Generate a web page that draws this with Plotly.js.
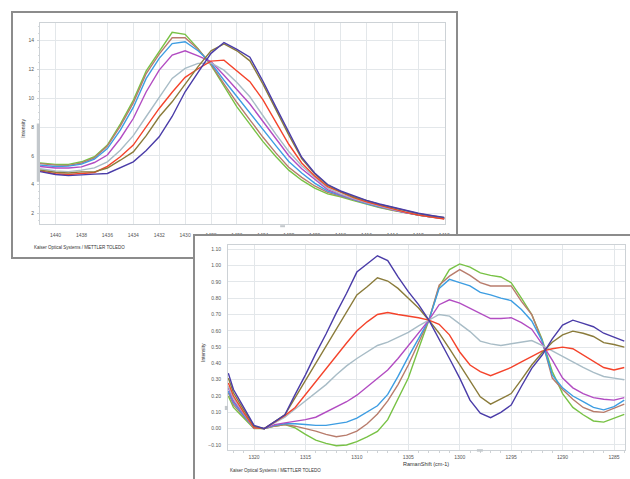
<!DOCTYPE html>
<html>
<head>
<meta charset="utf-8">
<script src="https://cdn.plot.ly/plotly-3.0.1.min.js"></script>
<style>
  html, body { margin:0; padding:0; background:#ffffff; width:630px; height:479px; overflow:hidden; }
  .panel { position:absolute; background:#ffffff; }
  #p1 { left:11px; top:11px; width:443px; height:244px; border:2px solid #8c8c8c; }
  #p2 { left:193px; top:234px; width:460px; height:270px; border-left:2px solid #8c8c8c; border-top:2px solid #8c8c8c; }
  #c1, #c2 { position:absolute; left:0; top:0; }
</style>
</head>
<body>
<div id="p1" class="panel"><div id="c1"></div></div>
<div id="p2" class="panel"><div id="c2"></div></div>
<script>
// ---------- Chart 1 (upper panel) ----------
const x1 = [1441.2,1440,1439,1438,1437,1436,1435,1434,1433,1432,1431,1430,1429,1428,1427,1426,1425,1424,1423,1422,1421,1420,1419,1418,1417,1416,1415,1414,1413,1412,1411,1410];
const c1Green  = [5.5,5.4,5.4,5.58,5.93,6.74,8.2,9.85,11.9,13.23,14.58,14.44,13.45,12.3,10.8,9.4,8.2,7.0,5.95,5.0,4.3,3.75,3.35,3.15,2.88,2.62,2.4,2.2,2.03,1.87,1.75,1.66];
const c1Brown  = [5.45,5.35,5.33,5.5,5.86,6.67,8.06,9.68,11.72,13.07,14.2,14.2,13.4,12.35,11.0,9.7,8.5,7.3,6.2,5.2,4.5,3.9,3.45,3.2,2.92,2.65,2.43,2.22,2.04,1.87,1.74,1.64];
const c1Blue   = [5.35,5.25,5.28,5.42,5.76,6.5,7.78,9.36,11.38,12.77,13.8,13.93,13.3,12.45,11.25,10.1,9.0,7.8,6.7,5.6,4.8,4.1,3.55,3.25,2.95,2.68,2.45,2.24,2.05,1.87,1.74,1.64];
const c1Purple = [5.25,5.15,5.15,5.23,5.53,6.05,7.2,8.59,10.45,11.96,13.0,13.3,12.95,12.55,11.6,10.6,9.6,8.4,7.2,6.0,5.1,4.35,3.65,3.3,2.98,2.72,2.48,2.26,2.06,1.88,1.75,1.64];
const c1Grey   = [5.1,4.95,4.9,5.0,5.16,5.58,6.39,7.4,8.73,10.1,11.38,12.07,12.42,12.45,11.95,11.1,10.1,8.8,7.5,6.3,5.3,4.5,3.75,3.35,3.02,2.75,2.5,2.28,2.08,1.9,1.76,1.65];
const c1Red    = [4.95,4.75,4.7,4.77,4.84,5.26,5.93,6.74,8.05,9.29,10.42,11.45,12.05,12.58,12.65,11.9,11.15,9.9,8.3,6.8,5.5,4.6,3.85,3.45,3.1,2.8,2.55,2.3,2.08,1.88,1.72,1.6];
const c1Olive  = [5.0,4.85,4.8,4.88,4.88,5.15,5.69,6.27,7.4,8.71,9.75,11.0,12.2,13.3,13.77,13.3,12.6,11.0,9.2,7.45,5.8,4.75,3.95,3.5,3.15,2.87,2.62,2.4,2.18,1.98,1.83,1.7];
const c1Navy   = [4.9,4.7,4.62,4.65,4.72,4.77,5.15,5.58,6.36,7.32,8.73,10.45,11.8,13.12,13.87,13.4,12.85,11.2,9.4,7.6,5.9,4.8,4.0,3.55,3.2,2.9,2.65,2.42,2.2,2.0,1.85,1.72];

// ---------- Chart 2 (lower panel) ----------
const x2 = [1322.5,1322,1321,1320,1319,1318,1317,1316,1315,1314,1313,1312,1311,1310,1309,1308,1307,1306,1305,1304,1303,1302,1301,1300,1299,1298,1297,1296,1295,1294,1293,1292,1291,1290,1289,1288,1287,1286,1285,1284];
const c2Navy   = [0.34,0.24,0.13,0.02,0.0,0.04,0.085,0.21,0.33,0.46,0.58,0.71,0.83,0.96,1.01,1.06,1.03,0.93,0.84,0.76,0.665,0.55,0.43,0.31,0.175,0.095,0.067,0.10,0.145,0.26,0.37,0.45,0.55,0.635,0.665,0.645,0.625,0.585,0.56,0.537];
const c2Olive  = [0.31,0.22,0.115,0.015,0.0,0.04,0.085,0.19,0.295,0.40,0.50,0.61,0.715,0.82,0.87,0.925,0.905,0.86,0.80,0.74,0.665,0.585,0.49,0.39,0.29,0.195,0.15,0.18,0.215,0.30,0.39,0.465,0.53,0.575,0.598,0.585,0.565,0.527,0.516,0.50];
const c2Red    = [0.28,0.20,0.10,0.005,0.0,0.04,0.08,0.13,0.21,0.29,0.37,0.45,0.525,0.60,0.655,0.70,0.712,0.70,0.69,0.68,0.665,0.64,0.575,0.47,0.39,0.35,0.325,0.35,0.375,0.41,0.44,0.475,0.49,0.50,0.49,0.45,0.41,0.375,0.36,0.375];
const c2Grey   = [0.26,0.185,0.095,0.005,0.0,0.035,0.07,0.12,0.17,0.22,0.27,0.33,0.385,0.43,0.47,0.51,0.53,0.56,0.59,0.63,0.665,0.70,0.69,0.64,0.595,0.537,0.52,0.51,0.52,0.53,0.54,0.51,0.475,0.44,0.405,0.375,0.345,0.32,0.31,0.30];
const c2Purple = [0.25,0.17,0.09,0.005,0.0,0.025,0.035,0.045,0.055,0.07,0.10,0.135,0.165,0.205,0.257,0.31,0.36,0.43,0.51,0.59,0.665,0.76,0.79,0.77,0.74,0.705,0.675,0.675,0.68,0.65,0.61,0.52,0.42,0.31,0.25,0.215,0.19,0.18,0.175,0.19];
const c2Blue   = [0.23,0.16,0.08,0.005,0.0,0.02,0.03,0.03,0.025,0.02,0.02,0.03,0.04,0.065,0.10,0.14,0.21,0.32,0.44,0.555,0.665,0.86,0.915,0.895,0.875,0.835,0.82,0.80,0.785,0.73,0.66,0.54,0.33,0.25,0.20,0.165,0.13,0.115,0.135,0.175];
const c2Brown  = [0.22,0.145,0.075,0.005,0.0,0.015,0.025,0.015,0.0,-0.015,-0.035,-0.05,-0.04,-0.015,0.03,0.09,0.17,0.27,0.39,0.53,0.665,0.88,0.935,0.975,0.94,0.895,0.875,0.875,0.875,0.78,0.70,0.54,0.31,0.24,0.18,0.13,0.105,0.10,0.125,0.15];
const c2Green  = [0.20,0.13,0.065,0.0,0.0,0.015,0.025,0.005,-0.035,-0.07,-0.09,-0.105,-0.10,-0.08,-0.05,-0.017,0.055,0.18,0.31,0.49,0.665,0.87,0.975,1.01,0.99,0.955,0.94,0.93,0.895,0.80,0.70,0.55,0.35,0.215,0.13,0.085,0.047,0.04,0.063,0.088];

const yTicks2 = [-0.10,0.00,0.10,0.20,0.30,0.40,0.50,0.60,0.70,0.80,0.90,1.00,1.10];
const footer = "Kaiser Optical Systems / METTLER TOLEDO";

const COLORS = {green:'#78c245', brown:'#b87c6c', blue:'#3d9de2', purple:'#b24cc2', grey:'#a8bcc6', red:'#f4432b', olive:'#8a7b3a', navy:'#4a3ca8'};
const FONT = 'Liberation Sans, Arial, sans-serif';

function mk(x, y, color){ return {x:x, y:y, type:'scatter', mode:'lines', line:{color:color, width:1.4}, hoverinfo:'skip'}; }

const t1 = [
  mk(x1,c1Green,COLORS.green), mk(x1,c1Brown,COLORS.brown), mk(x1,c1Blue,COLORS.blue), mk(x1,c1Purple,COLORS.purple),
  mk(x1,c1Grey,COLORS.grey), mk(x1,c1Red,COLORS.red), mk(x1,c1Olive,COLORS.olive), mk(x1,c1Navy,COLORS.navy)
];
const t2 = [
  mk(x2,c2Green,COLORS.green), mk(x2,c2Brown,COLORS.brown), mk(x2,c2Blue,COLORS.blue), mk(x2,c2Purple,COLORS.purple),
  mk(x2,c2Grey,COLORS.grey), mk(x2,c2Red,COLORS.red), mk(x2,c2Olive,COLORS.olive), mk(x2,c2Navy,COLORS.navy)
];

const grid = '#e3e7ea', axl = '#cdd2d6', grip = '#c3c8cc';

const layout1 = {
  width:443, height:244, margin:{l:27, r:11, t:10, b:33},
  paper_bgcolor:'#ffffff', plot_bgcolor:'#ffffff', showlegend:false,
  font:{family:FONT, size:5, color:'#555'},
  xaxis:{range:[1441.2,1409.94], tick0:1410, dtick:2, showgrid:true, gridcolor:grid, zeroline:false,
         showline:true, linecolor:axl, mirror:true, ticks:'', ticklabelstandoff:6, tickfont:{size:5, color:'#555'}},
  yaxis:{range:[1.256,15.23], tick0:2, dtick:2, showgrid:true, gridcolor:grid, zeroline:false,
         showline:true, linecolor:axl, mirror:true, ticks:'outside', ticklen:2, tickcolor:axl,
         minor:{ticks:'outside', ticklen:1, dtick:0.5, tickcolor:'#d5d9dc', showgrid:false},
         ticklabelstandoff:2, tickfont:{size:5, color:'#555'}},
  shapes:[
    {type:'rect', xref:'paper', yref:'paper', x0:-0.008, x1:0.0, y0:0.21, y1:0.5, fillcolor:grip, line:{width:0}, layer:'above'},
    {type:'rect', xref:'paper', yref:'paper', x0:0.593, x1:0.605, y0:-0.016, y1:-0.006, fillcolor:grip, line:{width:0}, layer:'above'}
  ],
  annotations:[
    {xref:'paper', yref:'paper', x:-0.0427, y:0.478, text:'Intensity', textangle:-90, showarrow:false, xanchor:'center', yanchor:'middle', font:{size:5, color:'#333'}},
    {xref:'paper', yref:'paper', x:-0.0205, y:-0.116, text:footer, showarrow:false, xanchor:'left', yanchor:'middle', font:{size:4.5, color:'#333'}}
  ]
};

const layout2 = {
  width:440, height:250, margin:{l:33, r:10, t:9, b:36},
  paper_bgcolor:'#ffffff', plot_bgcolor:'#ffffff', showlegend:false,
  font:{family:FONT, size:5, color:'#555'},
  xaxis:{range:[1322.53,1283.93], tick0:1320, dtick:5, showgrid:true, gridcolor:grid, zeroline:false,
         showline:true, linecolor:axl, mirror:true, ticks:'',
         minor:{ticks:'outside', ticklen:1.5, dtick:1, tickcolor:'#cfd3d6', showgrid:false},
         ticklabelstandoff:2, tickfont:{size:5, color:'#555'}},
  yaxis:{range:[-0.131,1.126], tickvals:yTicks2, tickformat:'.2f', showgrid:true, gridcolor:grid, zeroline:false,
         showline:true, linecolor:axl, mirror:true, ticks:'', ticklabelstandoff:5, tickfont:{size:5, color:'#555'}},
  shapes:[
    {type:'rect', xref:'paper', yref:'paper', x0:-0.008, x1:0.0, y0:0.195, y1:0.215, fillcolor:grip, line:{width:0}, layer:'above'},
    {type:'rect', xref:'paper', yref:'paper', x0:0.627, x1:0.642, y0:-0.008, y1:0.004, fillcolor:grip, line:{width:0}, layer:'above'}
  ],
  annotations:[
    {xref:'paper', yref:'paper', x:-0.063, y:0.478, text:'Intensity', textangle:-90, showarrow:false, xanchor:'center', yanchor:'middle', font:{size:5, color:'#333'}},
    {xref:'paper', yref:'paper', x:0.499, y:-0.068, text:'RamanShift (cm-1)', showarrow:false, xanchor:'center', yanchor:'middle', font:{size:5.5, color:'#333'}},
    {xref:'paper', yref:'paper', x:0.0, y:-0.102, text:footer, showarrow:false, xanchor:'left', yanchor:'middle', font:{size:4.5, color:'#333'}}
  ]
};

const cfg = {staticPlot:true, displayModeBar:false};
Plotly.newPlot('c1', t1, layout1, cfg);
Plotly.newPlot('c2', t2, layout2, cfg);
</script>
</body>
</html>
